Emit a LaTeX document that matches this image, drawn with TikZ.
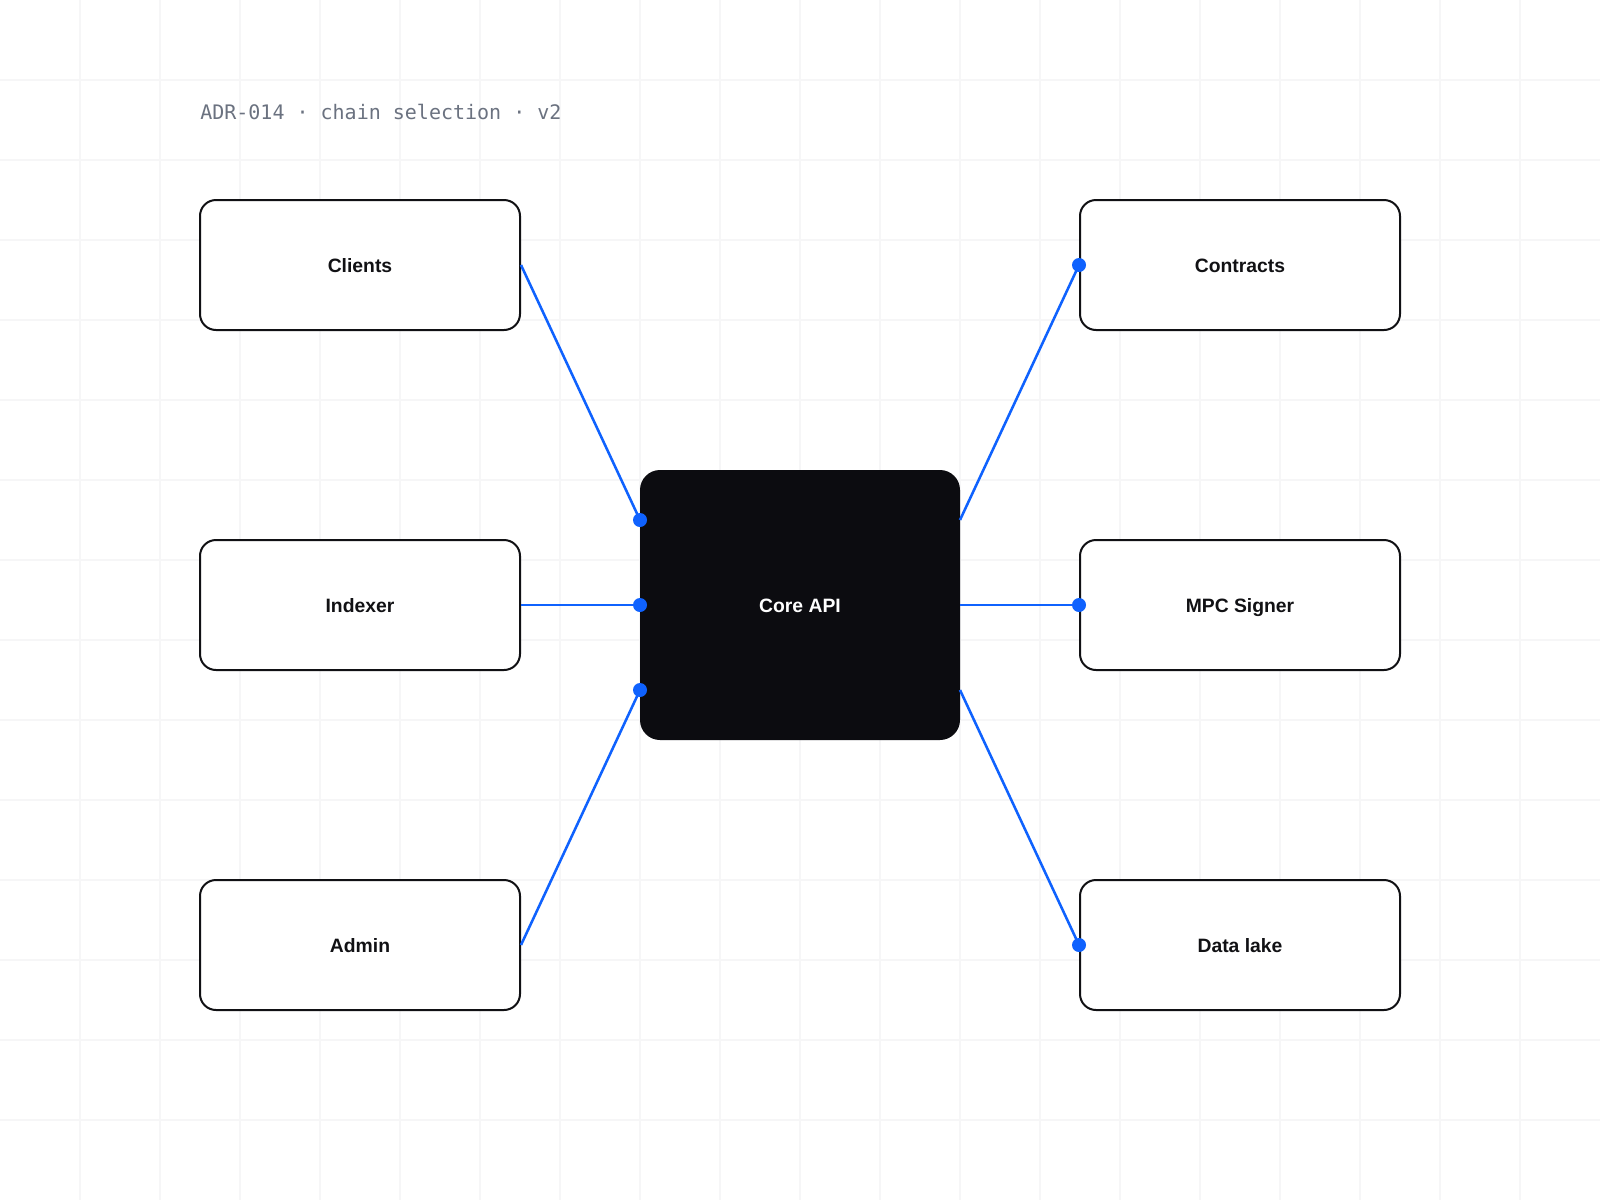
\documentclass[tikz,border=0pt]{standalone}
\usepackage{fontspec}
\setmainfont{Liberation Sans}
\newfontfamily\monof{DejaVu Sans Mono}
\definecolor{gridc}{HTML}{F6F6F7}
\definecolor{inkc}{HTML}{111114}
\definecolor{corec}{HTML}{0C0C10}
\definecolor{bluec}{HTML}{0F62FE}
\definecolor{titlec}{HTML}{6B7280}
\begin{document}
\begin{tikzpicture}[x=0.75pt,y=-0.75pt,
  svc/.style={draw=inkc,line width=1.5pt,fill=white,rounded corners=12pt,minimum width=240pt,minimum height=97.5pt,inner sep=0pt,text height=10.5pt,text depth=0pt,font=\fontsize{14.5}{17}\selectfont\bfseries,text=inkc},
  core/.style={fill=corec,draw=none,rounded corners=15pt,minimum width=240pt,minimum height=202.5pt,inner sep=0pt,text height=10.5pt,text depth=0pt,font=\fontsize{14.5}{17}\selectfont\bfseries,text=white},
  wire/.style={draw=bluec,line width=1.9pt},
  port/.style={circle,fill=bluec,draw=none,minimum size=10.5pt,inner sep=0pt}]
\useasboundingbox (0,0) rectangle (1600,1200);
\fill[white] (0,0) rectangle (1600,1200);
\foreach \i in {80,160,...,1520} \draw[gridc,line width=1pt] (\i,0) -- (\i,1200);
\foreach \j in {80,160,...,1120} \draw[gridc,line width=1pt] (0,\j) -- (1600,\j);
\node[anchor=base west,inner sep=0pt,text=titlec,font=\monof\fontsize{15}{18}\selectfont] (title) at (200,119) {ADR-014 · chain selection · v2};
\node[svc] (clients) at (360,265) {Clients};
\node[svc] (indexer) at (360,605) {Indexer};
\node[svc] (admin) at (360,945) {Admin};
\node[svc] (contracts) at (1240,265) {Contracts};
\node[svc] (mpc) at (1240,605) {MPC Signer};
\node[svc] (lake) at (1240,945) {Data lake};
\node[core] (api) at (800,605) {Core API};
\coordinate (pL1) at (640,520);
\coordinate (pL2) at (640,605);
\coordinate (pL3) at (640,690);
\coordinate (pR1) at (960,520);
\coordinate (pR2) at (960,605);
\coordinate (pR3) at (960,690);
\draw[wire] (clients.east) -- (pL1);
\draw[wire] (indexer.east) -- (pL2);
\draw[wire] (admin.east) -- (pL3);
\draw[wire] (pR1) -- (contracts.west);
\draw[wire] (pR2) -- (mpc.west);
\draw[wire] (pR3) -- (lake.west);
\node[port] (d1) at (pL1) {};
\node[port] (d2) at (pL2) {};
\node[port] (d3) at (pL3) {};
\node[port] (d4) at (contracts.west) {};
\node[port] (d5) at (mpc.west) {};
\node[port] (d6) at (lake.west) {};
\end{tikzpicture}
\end{document}
